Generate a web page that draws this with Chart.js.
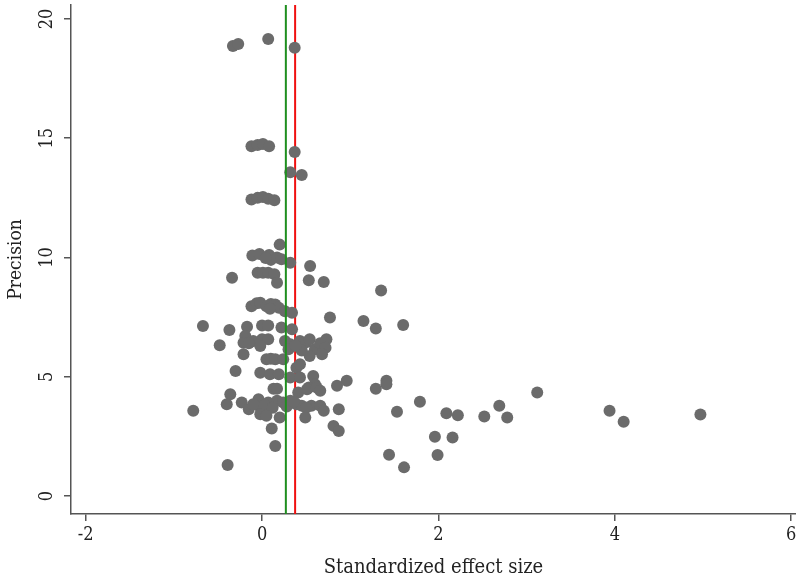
<!DOCTYPE html>
<html>
<head>
<meta charset="utf-8">
<script src="https://cdn.jsdelivr.net/npm/chart.js@4.4.0/dist/chart.umd.min.js"></script>
<style>
  html, body { margin: 0; padding: 0; background: #fff; }
</style>
</head>
<body>
<canvas id="funnel" width="796" height="580"></canvas>
<script>
// standardized effect size (x) and precision (y), one entry per study
const effectSize = [
  -0.33, -0.27, 0.07, 0.37, -0.12, -0.05, 0.01, 0.08, 0.37, 0.32,
  0.45, -0.12, -0.05, 0.01, 0.07, 0.14, 0.20, -0.11, -0.03, 0.08,
  0.10, 0.04, 0.17, 0.22, 0.32, 0.545, -0.34, -0.05, 0.01, 0.07,
  0.14, 0.17, 0.53, 0.70, -0.12, -0.06, -0.02, 0.05, 0.10, 0.15,
  0.19, 0.26, 0.34, 0.09, 0.77, -0.67, -0.37, -0.17, 0.00, 0.07,
  0.22, 0.34, -0.19, -0.21, -0.10, 0.00, 0.07, -0.15, -0.48, 0.26,
  0.32, 0.30, 0.43, 0.50, 0.54, 0.60, 0.66, 0.73, 0.72, 0.68,
  0.54, 0.45, 0.38, -0.21, -0.02, 0.05, 0.10, 0.15, 0.24, 0.39,
  0.43, -0.30, -0.02, 0.09, 0.19, 0.32, 0.43, 0.58, 0.60, 0.53,
  0.85, 0.96, 0.13, 0.17, 0.41, 0.51, 0.62, 0.66, -0.36, -0.40,
  -0.78, -0.23, -0.15, -0.04, -0.02, 0.07, 0.17, 0.24, 0.32, 0.39,
  0.45, 0.56, 0.66, 0.70, -0.10, 0.03, 0.12, 0.28, 0.36, 0.50,
  -0.02, 0.05, 0.20, 0.49, 0.87, 0.81, 0.87, 0.11, 0.15, -0.39,
  1.35, 1.15, 1.29, 1.60, 1.41, 1.41, 1.29, 1.79, 1.53, 2.09,
  2.22, 2.52, 2.69, 2.78, 3.12, 3.94, 4.10, 4.97, 1.96, 2.16,
  1.44, 1.99, 1.61
];
const precision = [
  18.87, 18.95, 19.16, 18.79, 14.66, 14.72, 14.76, 14.66, 14.42, 13.57,
  13.46, 12.43, 12.50, 12.54, 12.46, 12.40, 10.54, 10.08, 10.15, 10.10,
  9.90, 9.98, 10.00, 9.93, 9.78, 9.64, 9.15, 9.36, 9.36, 9.36,
  9.30, 8.94, 9.05, 8.97, 7.96, 8.08, 8.10, 7.96, 8.05, 8.03,
  7.89, 7.75, 7.68, 7.85, 7.48, 7.13, 6.96, 7.10, 7.15, 7.15,
  7.06, 6.99, 6.71, 6.43, 6.50, 6.57, 6.57, 6.40, 6.32, 6.50,
  6.36, 6.15, 6.50, 6.45, 6.57, 6.15, 6.40, 6.57, 6.22, 5.94,
  5.87, 6.10, 6.30, 5.94, 6.29, 5.73, 5.75, 5.73, 5.73, 5.38,
  5.52, 5.24, 5.17, 5.10, 5.10, 4.97, 4.97, 5.03, 4.69, 4.55,
  4.62, 4.83, 4.50, 4.50, 4.34, 4.48, 4.55, 4.41, 4.27, 3.85,
  3.57, 3.92, 3.64, 4.06, 3.71, 3.92, 3.99, 3.92, 3.99, 3.85,
  3.78, 3.78, 3.78, 3.57, 3.85, 3.80, 3.70, 3.75, 3.95, 3.70,
  3.43, 3.36, 3.29, 3.29, 3.64, 2.94, 2.73, 2.83, 2.10, 1.30,
  8.62, 7.34, 7.02, 7.17, 4.83, 4.69, 4.50, 3.95, 3.53, 3.47,
  3.39, 3.33, 3.78, 3.29, 4.34, 3.57, 3.11, 3.42, 2.48, 2.45,
  1.73, 1.72, 1.20
];

const xTicks = [-2, 0, 2, 4, 6];
const yTicks = [0, 5, 10, 15, 20];

// reference lines
const greenLineX = 0.27;
const redLineX = 0.375;

const xMin = -2.166, xMax = 6.054;
const yMin = -0.755, yMax = 20.587;

const serif = "'DejaVu Serif Condensed', 'DejaVu Serif', serif";
const axisColor = "#555";

const points = effectSize.map((x, i) => ({ x: x, y: precision[i] }));

// keep the plot area fixed: no extra room for overhanging tick labels
const noOverhang = s => {
  s.paddingLeft = 0; s.paddingRight = 0; s.paddingTop = 0; s.paddingBottom = 0;
};

new Chart(document.getElementById("funnel"), {
  type: "scatter",
  data: {
    datasets: [
      {
        type: "line",
        data: [{ x: greenLineX, y: yMin }, { x: greenLineX, y: yMax }],
        borderColor: "#1f8f1f",
        borderWidth: 2,
        pointRadius: 0,
        order: 0
      },
      {
        data: points,
        backgroundColor: "#6b6b6b",
        borderWidth: 0,
        pointRadius: 6,
        pointHoverRadius: 6,
        order: 1
      },
      {
        type: "line",
        data: [{ x: redLineX, y: yMin }, { x: redLineX, y: yMax }],
        borderColor: "#f01010",
        borderWidth: 2,
        pointRadius: 0,
        order: 2
      }
    ]
  },
  options: {
    responsive: false,
    animation: false,
    events: [],
    layout: { autoPadding: false, padding: { top: 5, left: 0, right: 0, bottom: 0 } },
    plugins: {
      legend: { display: false },
      tooltip: { enabled: false }
    },
    scales: {
      x: {
        type: "linear",
        min: xMin,
        max: xMax,
        afterBuildTicks: s => { s.ticks = xTicks.map(v => ({ value: v })); },
        afterFit: s => { s.height = 66; noOverhang(s); },
        grid: { drawOnChartArea: false, drawTicks: true, tickLength: 7, color: axisColor, lineWidth: 1.5 },
        border: { display: true, color: axisColor, width: 1.5 },
        ticks: {
          color: "#222",
          font: { family: serif, size: 18 },
          padding: 4,
          maxRotation: 0,
          minRotation: 0
        },
        title: {
          display: true,
          text: "Standardized effect size",
          color: "#222",
          font: { family: serif, size: 20 },
          padding: { top: 0, bottom: 0 }
        }
      },
      y: {
        type: "linear",
        min: yMin,
        max: yMax,
        afterBuildTicks: s => { s.ticks = yTicks.map(v => ({ value: v })); },
        afterFit: s => { s.width = 71; noOverhang(s); },
        grid: { drawOnChartArea: false, drawTicks: true, tickLength: 7, color: axisColor, lineWidth: 1.5 },
        border: { display: true, color: axisColor, width: 1.5 },
        ticks: {
          color: "#222",
          font: { family: serif, size: 18 },
          padding: 6,
          minRotation: 90,
          maxRotation: 90,
          crossAlign: "center"
        },
        title: {
          display: true,
          text: "Precision",
          color: "#222",
          font: { family: serif, size: 19 },
          padding: { top: 5, bottom: 0 }
        }
      }
    }
  }
});
</script>
</body>
</html>
